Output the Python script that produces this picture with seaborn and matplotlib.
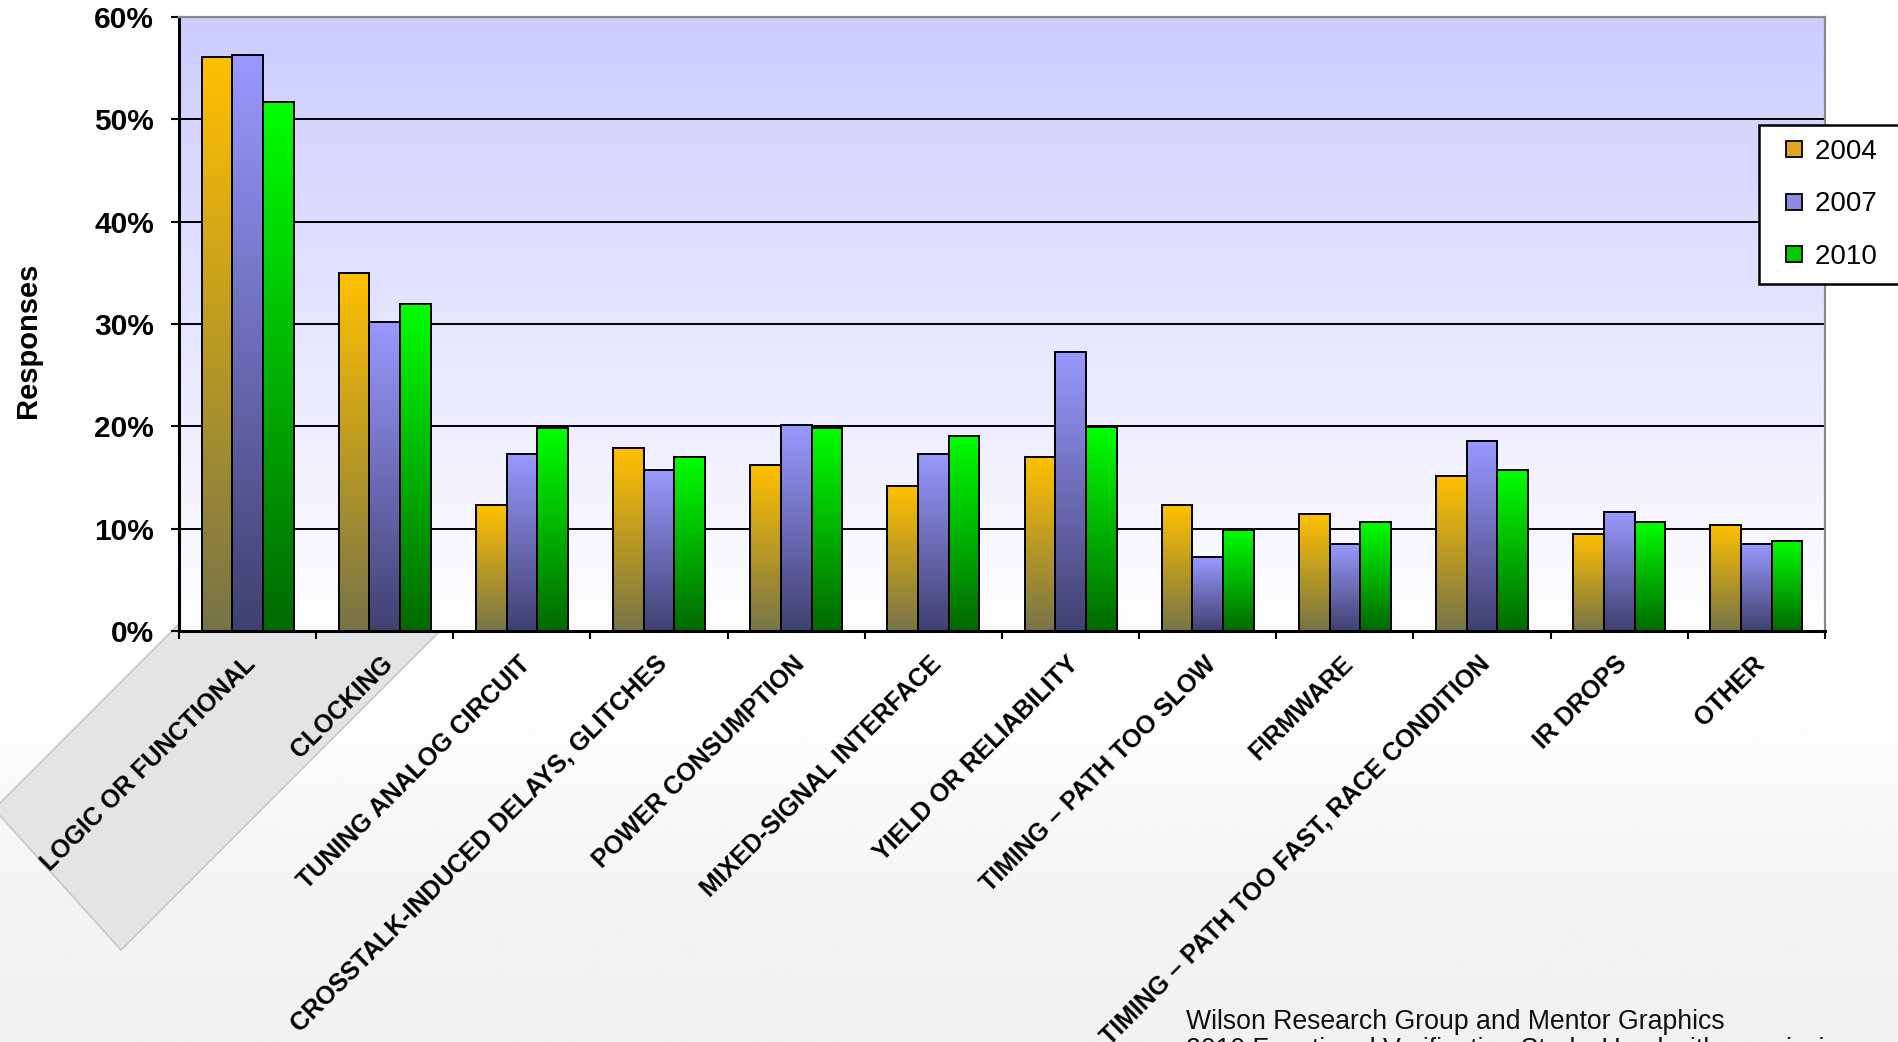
import numpy as np
import pandas as pd
import matplotlib
matplotlib.use("Agg")
import matplotlib.pyplot as plt
import matplotlib.transforms as mtransforms
import seaborn as sns
from matplotlib.patches import Polygon
from matplotlib.lines import Line2D
from matplotlib.ticker import FuncFormatter

# ---------------- data ----------------
categories = [
    "LOGIC OR FUNCTIONAL",
    "CLOCKING",
    "TUNING ANALOG CIRCUIT",
    "CROSSTALK-INDUCED DELAYS, GLITCHES",
    "POWER CONSUMPTION",
    "MIXED-SIGNAL INTERFACE",
    "YIELD OR RELIABILITY",
    "TIMING \u2013 PATH TOO SLOW",
    "FIRMWARE",
    "TIMING \u2013 PATH TOO FAST, RACE CONDITION",
    "IR DROPS",
    "OTHER",
]
years = ["2004", "2007", "2010"]
v2004 = [56.1, 35.0, 12.3, 17.9, 16.2, 14.2, 17.0, 12.3, 11.4, 15.1, 9.5, 10.4]
v2007 = [56.3, 30.2, 17.3, 15.7, 20.1, 17.3, 27.3, 7.2, 8.5, 18.6, 11.6, 8.5]
v2010 = [51.7, 32.0, 19.8, 17.0, 19.8, 19.1, 19.9, 9.9, 10.7, 15.7, 10.7, 8.8]
yticks = [0, 10, 20, 30, 40, 50, 60]
ylabel = "Responses"
source_lines = ["Wilson Research Group and Mentor Graphics",
                "2010 Functional Verification Study, Used with permission"]

# ---------------- style ----------------
plt.rcParams["font.family"] = ["Liberation Sans", "DejaVu Sans"]

top_cols = {"2004": (255, 192, 0), "2007": (153, 153, 255), "2010": (0, 255, 0)}
bot_cols = {"2004": (118, 116, 72), "2007": (64, 64, 112), "2010": (0, 105, 0)}
leg_cols = {"2004": "#E0A820", "2007": "#8C8CE8", "2010": "#00CC00"}

W, H = 1898, 1042
fig = plt.figure(figsize=(W / 100, H / 100), dpi=100)

# figure background gradient
bg = fig.add_axes([0, 0, 1, 1], zorder=-3)
bg.axis("off")
rows = np.linspace(0, H, 400)
vals = np.interp(rows, [0, 690, 900, H], [1.0, 1.0, 0.955, 0.945])
bg_img = np.repeat(vals[:, None], 2, axis=1)
bg.imshow(bg_img, cmap="gray", vmin=0, vmax=1, aspect="auto",
          extent=[0, 1, 0, 1], origin="upper")
bg.set_xlim(0, 1)
bg.set_ylim(0, 1)

# decorative grey band behind first labels
poly_px = [(-6, 809), (121, 950), (621, 450), (494, 309)]
poly = Polygon([(x / W, 1 - y / H) for x, y in poly_px], closed=True,
               transform=fig.transFigure, facecolor="#E3E4E6",
               edgecolor="#C8C8C8", lw=1.2, zorder=-2)
fig.add_artist(poly)

# plot area
pos = [179 / W, 1 - 631 / H, (1825 - 179) / W, (631 - 17) / H]
pa = fig.add_axes(pos, zorder=-1)
pa.axis("off")
t = np.linspace(0, 1, 256)[:, None]
top_bg = np.array([204, 204, 255]) / 255
grad_bg = top_bg * (1 - t) + np.ones(3) * t
pa.imshow(grad_bg[:, None, :], aspect="auto", extent=[0, 1, 0, 1], origin="upper")
pa.set_xlim(0, 1)
pa.set_ylim(0, 1)

ax = fig.add_axes(pos, zorder=0)
ax.patch.set_alpha(0)

df = pd.DataFrame({
    "category": categories * 3,
    "year": np.repeat(years, len(categories)),
    "value": v2004 + v2007 + v2010,
})

sns.barplot(data=df, x="category", y="value", hue="year", order=categories,
            hue_order=years, palette=leg_cols, width=0.67, gap=0,
            saturation=1, edgecolor="black", linewidth=1.4, errorbar=None,
            legend=False, ax=ax)

# gradient fill for every bar
tt = np.linspace(0, 1, 128)[:, None]
for yr, cont in zip(years, ax.containers):
    top = np.array(top_cols[yr]) / 255
    bot = np.array(bot_cols[yr]) / 255
    g = top * (1 - tt) + bot * tt
    g = g[:, None, :]
    for bar in cont:
        x0, w, h = bar.get_x(), bar.get_width(), bar.get_height()
        ax.imshow(g, extent=[x0, x0 + w, 0, h], aspect="auto",
                  origin="upper", zorder=1.5, interpolation="bilinear")
        bar.set_facecolor("none")
        bar.set_zorder(2)

ax.set_xlim(-0.5, len(categories) - 0.5)
ax.set_ylim(0, 60)
ax.set_yticks(yticks)
ax.yaxis.set_major_formatter(FuncFormatter(lambda v, p: f"{v:.0f}%"))
ax.set_xlabel("")
ax.set_ylabel("")
fig.text(28 / W, 1 - 340 / H, ylabel, rotation=90, fontsize=21,
         fontweight="bold", ha="center", va="center")

ax.set_axisbelow(True)
ax.yaxis.grid(True, color="black", lw=1.4)
ax.get_ygridlines()[-1].set_visible(False)

for s in ["left", "bottom"]:
    ax.spines[s].set_color("black")
    ax.spines[s].set_linewidth(2.2)
for s in ["top", "right"]:
    ax.spines[s].set_color("#8A8A8A")
    ax.spines[s].set_linewidth(1.6)

ax.tick_params(axis="y", which="major", direction="out", length=6, width=1.5,
               pad=12, labelsize=21.5)
for lab in ax.get_yticklabels():
    lab.set_fontweight("bold")

ax.set_xticks(range(len(categories)))
ax.set_xticklabels(categories, rotation=45, ha="right", va="top",
                   rotation_mode="anchor", fontsize=18, fontweight="bold")
ax.tick_params(axis="x", which="major", length=0, pad=15)
ax.set_xticks(np.arange(-0.5, len(categories), 1), minor=True)
ax.tick_params(axis="x", which="minor", direction="out", length=6, width=1.5)
off = mtransforms.ScaledTranslation(-4 / 100, 0, fig.dpi_scale_trans)
for lab in ax.get_xticklabels():
    lab.set_transform(lab.get_transform() + off)

# legend
handles = [Line2D([], [], marker="s", ls="none", markersize=12,
                  markerfacecolor=leg_cols[y], markeredgecolor="black",
                  markeredgewidth=1.3) for y in years]
leg = fig.legend(handles, [y + "   " for y in years], loc="upper left",
                 bbox_to_anchor=(1759 / W, 1 - 125 / H), frameon=True,
                 fancybox=False, edgecolor="black", framealpha=1,
                 prop={"size": 20}, handlelength=1.5, handletextpad=0.0,
                 labelspacing=0.95, borderpad=0.5, borderaxespad=0)
leg.get_frame().set_linewidth(1.8)

# source text
fig.text(1186 / W, 1 - 1022 / H, source_lines[0], fontsize=19.2,
         ha="left", va="center", color="#111111")
fig.text(1186 / W, 1 - 1050 / H, source_lines[1], fontsize=19.2,
         ha="left", va="center", color="#111111")

fig.savefig("out.png", dpi=100)
